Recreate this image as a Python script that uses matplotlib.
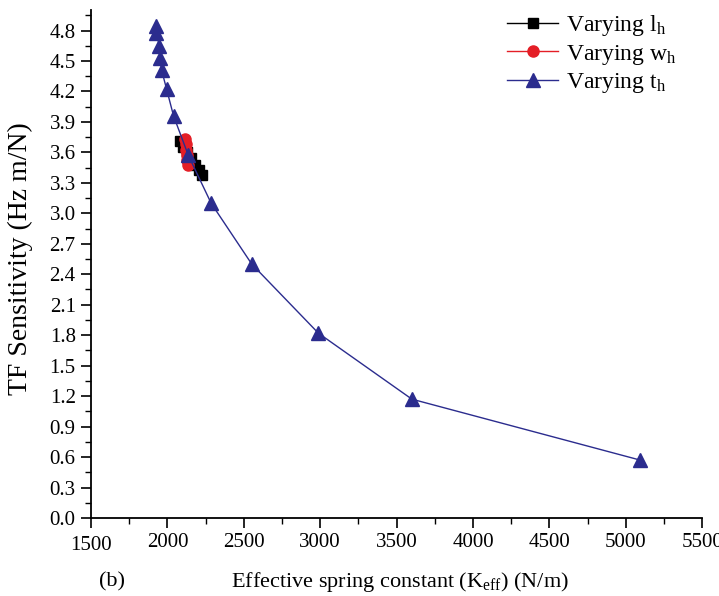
import numpy as np
import matplotlib
matplotlib.use("Agg")
import matplotlib.pyplot as plt
from matplotlib.ticker import MultipleLocator

plt.rcParams['font.family'] = ['Liberation Serif', 'DejaVu Serif']
plt.rcParams['mathtext.fontset'] = 'custom'
plt.rcParams['mathtext.rm'] = 'Liberation Serif'
plt.rcParams['mathtext.it'] = 'Liberation Serif:italic'

# Varying l_h (black squares)
k_lh = [2080, 2105, 2130, 2155, 2180, 2205, 2225]
s_lh = [3.71, 3.65, 3.60, 3.54, 3.48, 3.43, 3.38]

# Varying w_h (red circles)
k_wh = [2118, 2121, 2124, 2127, 2131, 2135]
s_wh = [3.73, 3.68, 3.62, 3.57, 3.52, 3.48]

# Varying t_h (blue triangles)
k_th = [1924, 1928, 1947, 1952, 1962, 1995, 2040, 2137, 2286, 2552, 2988, 3600, 5094]
s_th = [4.84, 4.78, 4.65, 4.53, 4.41, 4.22, 3.96, 3.57, 3.10, 2.50, 1.82, 1.17, 0.57]

xticks = np.arange(1500, 5501, 500)
yticks = np.arange(0, 4.81, 0.3)

fig = plt.figure(figsize=(7.19, 5.96), dpi=100)
ax = fig.add_axes([0.1266, 0.1309, 0.850, 0.852])

ax.plot(k_lh, s_lh, '-s', color='black', lw=1.0, ms=6.5, label=r'Varying l$_\mathrm{h}$')
ax.plot(k_wh, s_wh, '-o', color='#e41e26', lw=1.0, ms=8, label=r'Varying w$_\mathrm{h}$')
ax.plot(k_th, s_th, '-^', color='#2b2c8e', lw=1.0, ms=9.5, label=r'Varying t$_\mathrm{h}$')

ax.set_xlim(1500, 5500)
ax.set_ylim(0, 5.0)
ax.set_xticks(xticks)
ax.set_yticks(yticks)
ax.xaxis.set_minor_locator(MultipleLocator(250))
ax.yaxis.set_minor_locator(MultipleLocator(0.15))
ax.set_yticklabels([f"{v:.1f}" for v in yticks])

for s in ['top', 'right']:
    ax.spines[s].set_visible(False)
for s in ['left', 'bottom']:
    ax.spines[s].set_linewidth(1.3)

ax.tick_params(which='major', direction='out', length=7, width=1.2, labelsize=15, pad=4)
ax.tick_params(which='minor', direction='out', length=4, width=1.0)

# first x label sits a bit lower in the original
ax.get_xticklabels()[0].set_y(-0.005)

ax.set_xlabel(r'Effective spring constant (K$_\mathrm{eff}$) (N/m)', fontsize=16)
ax.xaxis.set_label_coords(0.506, -0.103)
ax.set_ylabel('TF Sensitivity (Hz m/N)', fontsize=20)
ax.yaxis.set_label_coords(-0.095, 0.51)
fig.text(0.138, 0.016, '(b)', fontsize=16)

ax.legend(loc='upper left', frameon=False, fontsize=17, handlelength=2.15,
          handletextpad=0.35, labelspacing=0.2, borderpad=0.0,
          bbox_to_anchor=(0.662, 1.018))

fig.savefig('out.png', dpi=100)
